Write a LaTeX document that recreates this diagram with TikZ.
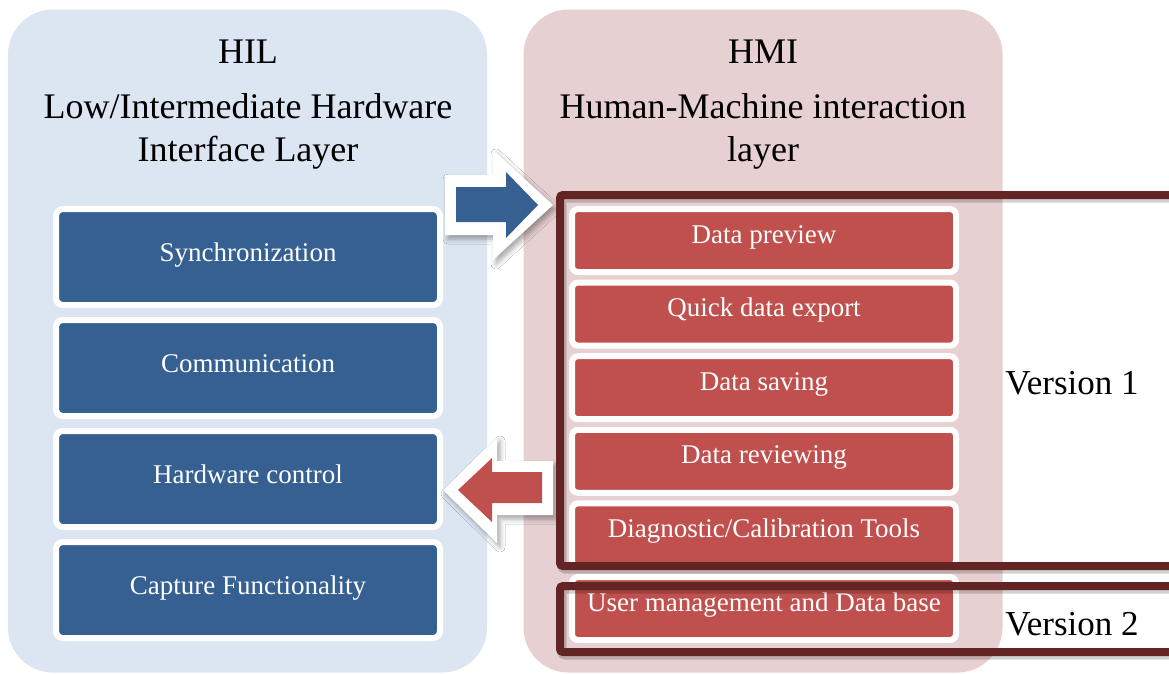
\documentclass[tikz,border=0pt]{standalone}
\usepackage{fontspec}
\setmainfont{Liberation Serif}
\usetikzlibrary{shadows.blur}
\definecolor{hilbg}{HTML}{DCE6F2}
\definecolor{hmibg}{HTML}{E7D0D1}
\definecolor{bluebox}{HTML}{366092}
\definecolor{redbox}{HTML}{C0504D}
\definecolor{framecol}{HTML}{632523}
\tikzset{
  panel/.style={rectangle, rounded corners=45, inner sep=0, minimum width=479, minimum height=663},
  hwbox/.style={rectangle, rounded corners=7, draw=white, line width=6, fill=bluebox, inner sep=0, minimum width=384, minimum height=96},
  hmibox/.style={rectangle, rounded corners=6, draw=white, line width=6, fill=redbox, inner sep=0, minimum width=384, minimum height=63},
  boxlabel/.style={text=white, font=\fontsize{27}{32}\selectfont, anchor=base, inner sep=0},
  titletext/.style={font=\fontsize{36}{43}\selectfont, anchor=base, inner sep=0},
  versiontext/.style={font=\fontsize{35}{42}\selectfont, anchor=base, inner sep=0},
  framebox/.style={draw=framecol, line width=8, rounded corners=3},
  frameshadow/.style={draw=black, line width=9, opacity=0.18, rounded corners=3},
  arrowback/.style={fill=white, blur shadow={shadow xshift=3pt, shadow yshift=-4pt, shadow blur radius=5pt, shadow opacity=35}},
}
\begin{document}
\begin{tikzpicture}[x=1pt, y=-1pt]
\useasboundingbox (0,0) rectangle (1169,673);
\fill[white] (0,0) rectangle (1169,673);
% panels
\node[panel, fill=hilbg] (hil) at (247.5,341) {};
\node[panel, fill=hmibg] (hmi) at (763,341) {};
% titles
\node[titletext] (hilt1) at (248,63) {HIL};
\node[titletext] (hilt2) at (248,118) {Low/Intermediate Hardware};
\node[titletext] (hilt3) at (248,161) {Interface Layer};
\node[titletext] (hmit1) at (763,63) {HMI};
\node[titletext] (hmit2) at (763,118) {Human-Machine interaction};
\node[titletext] (hmit3) at (763,161) {layer};
% HIL boxes
\node[hwbox] (sync) at (248,257) {};
\node[boxlabel] (synct) at ([yshift=-4]sync.center) {Synchronization};
\node[hwbox] (comm) at (248,368) {};
\node[boxlabel] (commt) at ([yshift=-4]comm.center) {Communication};
\node[hwbox] (hwc) at (248,479) {};
\node[boxlabel] (hwct) at ([yshift=-4]hwc.center) {Hardware control};
\node[hwbox] (cap) at (248,590) {};
\node[boxlabel] (capt) at ([yshift=-4]cap.center) {Capture Functionality};
% HMI boxes
\node[hmibox] (prev) at (764,240.5) {};
\node[boxlabel] (prevt) at ([yshift=-2.5]prev.center) {Data preview};
\node[hmibox] (qexp) at (764,314.1) {};
\node[boxlabel] (qexpt) at ([yshift=-2.5]qexp.center) {Quick data export};
\node[hmibox] (save) at (764,387.7) {};
\node[boxlabel] (savet) at ([yshift=-2.5]save.center) {Data saving};
\node[hmibox] (rev) at (764,461.3) {};
\node[boxlabel] (revt) at ([yshift=-2.5]rev.center) {Data reviewing};
\node[hmibox] (diag) at (764,534.9) {};
\node[boxlabel] (diagt) at ([yshift=-2.5]diag.center) {Diagnostic/Calibration Tools};
\node[hmibox] (user) at (764,608.5) {};
\node[boxlabel] (usert) at ([yshift=-2.5]user.center) {User management and Data base};
% block arrows
\path[arrowback] (445,175) -- (493,175) -- (493,150) -- (553,205) -- (493,260) -- (493,235) -- (445,235) -- cycle;
\fill[bluebox] (456,187) -- (506,187) -- (506,172) -- (538,205) -- (506,238) -- (506,222) -- (456,222) -- cycle;
\path[arrowback] (553,461) -- (497,461) -- (497,437) -- (443,490) -- (497,543) -- (497,515) -- (553,515) -- cycle;
\fill[redbox] (542,472) -- (492,472) -- (492,458) -- (458,490) -- (492,522) -- (492,503) -- (542,503) -- cycle;
% version frames
\begin{scope}
\clip (0,0) rectangle (1169,673);
\draw[frameshadow] (1190,198) -- (562,198) -- (562,569) -- (1190,569);
\draw[frameshadow] (1190,589) -- (562,589) -- (562,655) -- (1190,655);
\draw[framebox] (1190,195) -- (560,195) -- (560,566) -- (1190,566);
\draw[framebox] (1190,586) -- (560,586) -- (560,652) -- (1190,652);
\end{scope}
\node[versiontext] (v1) at (1072,394) {Version 1};
\node[versiontext] (v2) at (1072,635) {Version 2};
\end{tikzpicture}
\end{document}
